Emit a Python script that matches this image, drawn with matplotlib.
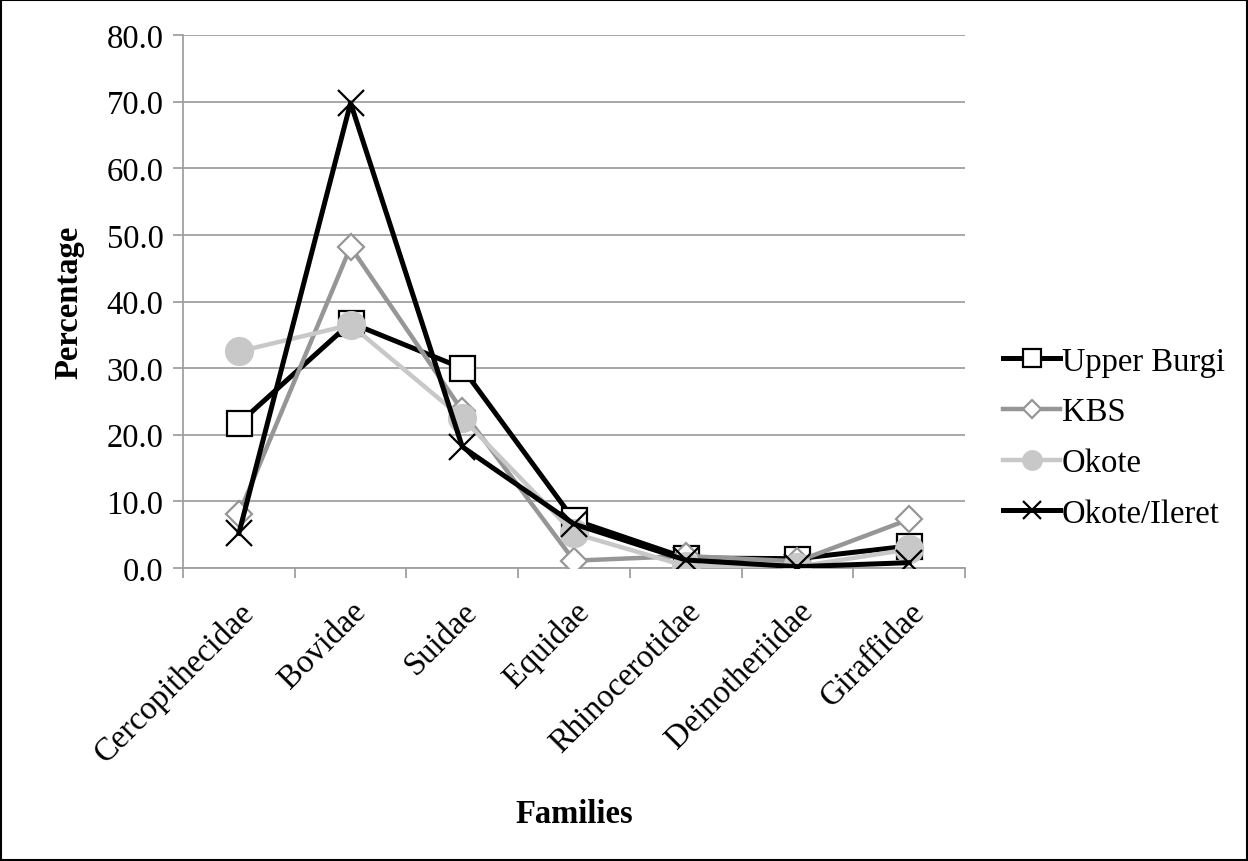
import numpy as np
import matplotlib
matplotlib.use("Agg")
import matplotlib.pyplot as plt
from matplotlib.ticker import FixedLocator, FormatStrFormatter

families = ["Cercopithecidae", "Bovidae", "Suidae", "Equidae",
            "Rhinocerotidae", "Deinotheriidae", "Giraffidae"]
upper_burgi = [21.7, 36.8, 30.0, 7.2, 1.5, 1.4, 3.3]
kbs = [8.1, 48.2, 23.6, 1.1, 1.8, 1.0, 7.3]
okote = [32.5, 36.5, 22.5, 5.2, 0.3, 0.2, 2.8]
okote_ileret = [5.2, 69.8, 18.2, 6.6, 1.2, 0.2, 0.8]

plt.rcParams['font.family'] = ['Liberation Serif', 'DejaVu Serif']
fs = 23.5

fig = plt.figure(figsize=(12.48, 8.62), dpi=100)
ax = fig.add_axes([183 / 1248, 1 - 569 / 862, (965 - 183) / 1248, (569 - 36) / 862])

x = np.arange(len(families))
ax.plot(x, upper_burgi, color='black', lw=3.6, marker='s', ms=18,
        mfc='white', mec='black', mew=1.6, label='Upper Burgi', zorder=3)
ax.plot(x, kbs, color='#969696', lw=3.2, marker='D', ms=13,
        mfc='white', mec='#969696', mew=1.6, label='KBS', zorder=4)
ax.plot(x, okote, color='#c8c8c8', lw=3.2, marker='o', ms=20,
        mfc='#c8c8c8', mec='#c8c8c8', label='Okote', zorder=5)
ax.plot(x, okote_ileret, color='black', lw=3.6, marker='x', ms=19,
        mec='black', mew=1.6, label='Okote/Ileret', zorder=6)

ax.set_xlim(-0.5, len(families) - 0.5)
ax.set_ylim(0, 80)
ax.yaxis.set_major_locator(FixedLocator(np.arange(0, 81, 10)))
ax.yaxis.set_major_formatter(FormatStrFormatter('%.1f'))
ax.grid(axis='y', color='#a0a0a0', lw=1.3)
ax.set_axisbelow(True)

ax.set_xticks(x)
ax.set_xticklabels(families, rotation=45, ha='right', rotation_mode='anchor')
ax.set_xticks(np.arange(-0.5, len(families)), minor=True)
ax.tick_params(axis='x', which='major', length=0, pad=20, labelsize=fs)
ax.tick_params(axis='x', which='minor', length=7, color='#a0a0a0', width=1.3)
ax.tick_params(axis='y', length=7, color='#a0a0a0', width=1.3, labelsize=fs, pad=7)

for side in ['top', 'right']:
    ax.spines[side].set_visible(False)
for side in ['left', 'bottom']:
    ax.spines[side].set_color('#a0a0a0')
    ax.spines[side].set_linewidth(1.3)

ax.set_ylabel('Percentage', fontsize=fs, fontweight='bold', labelpad=16)
ax.set_xlabel('Families', fontsize=fs, fontweight='bold', labelpad=22)

ax.legend(loc='center left', bbox_to_anchor=(1.049, 0.245), frameon=False,
          fontsize=fs, handlelength=1.75, handletextpad=0.05, labelspacing=0.62,
          borderpad=0, borderaxespad=0, markerscale=0.7)

fig.patches.append(plt.Rectangle((0.001, 0.001), 0.998, 0.998, transform=fig.transFigure,
                                 fill=False, edgecolor='black', lw=1.5))

fig.savefig('out.png', dpi=100)
